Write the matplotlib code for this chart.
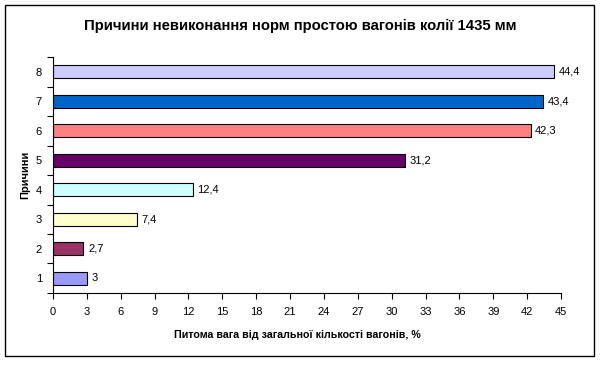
import matplotlib.pyplot as plt
from matplotlib.patches import Rectangle

plt.rcParams['font.family'] = ['Liberation Sans', 'DejaVu Sans']

causes = [1, 2, 3, 4, 5, 6, 7, 8]
values = [3, 2.7, 7.4, 12.4, 31.2, 42.3, 43.4, 44.4]
colors = ['#9999FF', '#993366', '#FFFFCC', '#CCFFFF', '#660066', '#FF8080', '#0066CC', '#CCCCFF']
xticks = list(range(0, 46, 3))

fig = plt.figure(figsize=(6, 3.66), dpi=100)
ax = fig.add_axes([0.0883, 0.1995, 0.8467, 0.6445])

ax.barh(causes, values, height=0.44, color=colors, edgecolor='black', linewidth=0.8)
for c, v in zip(causes, values):
    ax.text(v + 0.4, c, str(v).replace('.', ','), va='center', ha='left', fontsize=8)

ax.set_xlim(0, 45)
ax.set_ylim(0.5, 8.5)
ax.set_xticks(xticks)
ax.tick_params(axis='x', direction='out', length=4, labelsize=8, pad=6, width=0.8)

# ticks at category boundaries, labels at centers
ax.set_yticks([i + 0.5 for i in range(0, 9)])
ax.set_yticklabels([])
ax.set_yticks(causes, minor=True)
ax.set_yticklabels([str(c) for c in causes], minor=True)
ax.tick_params(axis='y', which='major', direction='out', length=4, width=0.8)
ax.tick_params(axis='y', which='minor', length=0, labelsize=8, pad=8)

for s in ['top', 'right']:
    ax.spines[s].set_visible(False)
for s in ['left', 'bottom']:
    ax.spines[s].set_linewidth(0.8)

ax.set_xlabel('Питома вага від загальної кількості вагонів, %', fontsize=7.7, fontweight='bold', labelpad=8)
ax.xaxis.set_label_coords(0.482, -0.155)
ax.set_ylabel('Причини', fontsize=8, fontweight='bold', labelpad=4)
fig.text(0.5, 0.93, 'Причини невиконання норм простою вагонів колії 1435 мм',
         ha='center', va='center', fontsize=10.75, fontweight='bold')

fig.patches.append(Rectangle((5 / 600, 1 - 356 / 366), 589 / 600, 351 / 366,
                             transform=fig.transFigure, fill=False, edgecolor='black', linewidth=1))

fig.savefig('out.png', dpi=100)
